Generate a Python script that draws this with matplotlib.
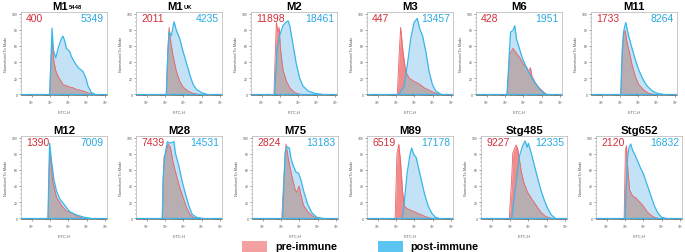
import matplotlib
matplotlib.use('Agg')
import matplotlib.pyplot as plt
import numpy as np
from matplotlib.patches import Rectangle

plt.rcParams['font.family'] = ['Liberation Sans', 'DejaVu Sans']
plt.rcParams['mathtext.fontset'] = 'custom'
plt.rcParams['mathtext.rm'] = 'Liberation Sans'
plt.rcParams['mathtext.bf'] = 'Liberation Sans:bold'

# panel titles (name, subscript) and MFI values
panels = ['M1', 'M1', 'M2', 'M3', 'M6', 'M11',
          'M12', 'M28', 'M75', 'M89', 'Stg485', 'Stg652']
subscripts = ['5448', 'UK', '', '', '', '', '', '', '', '', '', '']
pre_mfi = [400, 2011, 11898, 447, 428, 1733, 1390, 7439, 2824, 6519, 9227, 2120]
post_mfi = [5349, 4235, 18461, 13457, 1951, 8264, 7009, 14531, 13183, 17178, 12335, 16832]

# histogram outlines: FITC-H in decades (log10) and % of mode
pre_log = [
    [1.98, 2.05, 2.11, 2.18, 2.30, 2.44, 2.71, 3.07, 3.25, 3.44, 3.80, 4.16, 4.35],
    [2.07, 2.15, 2.22, 2.31, 2.44, 2.62, 2.80, 2.98, 3.25, 3.53, 3.80],
    [1.67, 1.74, 1.80, 1.89, 1.95, 2.02, 2.16, 2.35, 2.53, 2.80, 3.07],
    [2.07, 2.16, 2.25, 2.38, 2.53, 2.71, 2.98, 3.25, 3.53, 3.80, 4.07, 4.35],
    [2.11, 2.25, 2.43, 2.62, 2.81, 3.00, 3.19, 3.28, 3.38, 3.47, 3.66, 3.85, 4.04, 4.23],
    [2.04, 2.12, 2.20, 2.28, 2.37, 2.52, 2.65, 2.83, 3.02, 3.30, 3.57, 3.85],
    [1.89, 1.94, 1.98, 2.07, 2.16, 2.35, 2.62, 2.89, 3.16, 3.44, 3.80],
    [1.85, 1.90, 1.95, 2.05, 2.16, 2.29, 2.44, 2.62, 2.80, 2.98, 3.16, 3.35, 3.53, 3.71],
    [2.04, 2.15, 2.27, 2.40, 2.58, 2.76, 2.85, 2.98, 3.07, 3.22, 3.49, 3.76, 4.04],
    [1.95, 2.05, 2.15, 2.25, 2.35, 2.45, 2.60, 2.80, 3.00, 3.30, 3.60, 3.90],
    [1.96, 2.09, 2.15, 2.33, 2.42, 2.51, 2.60, 2.75, 2.96, 3.18, 3.42, 3.69, 3.96, 4.24],
    [1.95, 2.02, 2.08, 2.15, 2.25, 2.40, 2.60, 2.80, 3.00, 3.20, 3.40, 3.60, 3.80],
]
pre_pct = [
    [0, 40, 67, 45, 30, 22, 12, 9, 8, 6, 4, 1, 0],
    [0, 55, 83, 65, 47, 28, 16, 9, 4, 1, 0],
    [0, 50, 89, 77, 83, 57, 30, 16, 8, 2, 0],
    [0, 45, 83, 53, 28, 20, 16, 13, 8, 5, 2, 0],
    [0, 49, 57, 51, 45, 37, 33, 28, 33, 22, 14, 8, 4, 0],
    [0, 50, 75, 79, 65, 51, 37, 22, 12, 5, 1, 0],
    [0, 50, 81, 65, 44, 26, 16, 9, 7, 3, 0],
    [0, 50, 77, 80, 92, 88, 69, 53, 38, 26, 14, 5, 1, 0],
    [0, 50, 92, 73, 53, 36, 32, 40, 30, 16, 7, 2, 0],
    [0, 80, 92, 70, 35, 15, 12, 10, 8, 5, 2, 0],
    [0, 50, 81, 91, 86, 73, 59, 44, 32, 24, 16, 7, 2, 0],
    [0, 85, 90, 60, 35, 28, 25, 20, 15, 8, 4, 1, 0],
]
post_log = [
    [1.98, 2.05, 2.11, 2.18, 2.31, 2.45, 2.62, 2.71, 2.80, 2.89, 3.07, 3.16, 3.35, 3.53, 3.80, 3.95, 4.07, 4.25, 4.44],
    [2.07, 2.15, 2.22, 2.35, 2.49, 2.62, 2.80, 2.98, 3.16, 3.35, 3.53, 3.71, 3.98, 4.25],
    [1.71, 1.78, 1.85, 1.98, 2.16, 2.31, 2.44, 2.53, 2.71, 2.89, 3.07, 3.25, 3.53, 3.89, 4.25],
    [2.16, 2.44, 2.62, 2.80, 2.98, 3.16, 3.29, 3.44, 3.62, 3.80, 3.98, 4.16, 4.44],
    [2.11, 2.30, 2.43, 2.53, 2.62, 2.75, 2.94, 3.13, 3.32, 3.51, 3.70, 3.89, 4.13, 4.26],
    [2.04, 2.12, 2.19, 2.31, 2.46, 2.65, 2.83, 3.02, 3.26, 3.48, 3.76, 4.04, 4.31],
    [1.89, 1.94, 1.98, 2.07, 2.20, 2.35, 2.53, 2.80, 3.07, 3.44, 3.89, 4.16],
    [1.85, 1.90, 1.98, 2.13, 2.25, 2.38, 2.49, 2.56, 2.75, 2.93, 3.11, 3.29, 3.47, 3.71, 3.98],
    [2.09, 2.16, 2.22, 2.31, 2.45, 2.55, 2.67, 2.82, 2.95, 3.09, 3.25, 3.44, 3.67, 3.95, 4.22],
    [2.35, 2.45, 2.60, 2.75, 2.85, 2.95, 3.10, 3.25, 3.40, 3.55, 3.75, 3.95, 4.15, 4.30],
    [2.09, 2.33, 2.51, 2.69, 2.82, 2.93, 3.00, 3.15, 3.33, 3.51, 3.69, 3.87, 4.05, 4.25, 4.45],
    [2.00, 2.07, 2.14, 2.22, 2.31, 2.40, 2.55, 2.70, 2.85, 3.00, 3.15, 3.30, 3.45, 3.60, 3.80, 4.00, 4.20],
]
post_pct = [
    [0, 45, 82, 55, 45, 58, 69, 72, 66, 57, 53, 47, 39, 33, 28, 20, 10, 2, 0],
    [0, 50, 77, 73, 90, 79, 69, 53, 39, 24, 12, 6, 2, 0],
    [0, 30, 57, 73, 85, 89, 91, 85, 61, 37, 20, 10, 4, 1, 0],
    [0, 10, 37, 69, 89, 94, 81, 73, 53, 28, 12, 4, 0],
    [0, 77, 79, 85, 69, 59, 45, 35, 26, 18, 12, 6, 1, 0],
    [0, 55, 77, 89, 73, 57, 43, 30, 18, 10, 4, 1, 0],
    [0, 60, 93, 73, 49, 34, 24, 16, 8, 4, 1, 0],
    [0, 50, 77, 95, 93, 94, 95, 81, 65, 46, 30, 16, 5, 1, 0],
    [0, 45, 81, 89, 87, 73, 65, 57, 56, 47, 32, 18, 7, 1, 0],
    [0, 20, 55, 78, 87, 80, 75, 60, 45, 30, 15, 6, 1, 0],
    [0, 44, 77, 90, 96, 88, 93, 81, 65, 49, 34, 22, 12, 4, 0],
    [0, 40, 75, 88, 92, 85, 78, 70, 62, 55, 45, 35, 25, 15, 6, 1, 0],
]

RED_TXT = '#d42e3b'
BLUE_TXT = '#29a9e1'
RED_FILL = '#f28b8b'
RED_LINE = '#e8646a'
GRAY_FILL = '#b8adb0'
BLUE_FILL = '#c3e2f6'
BLUE_LINE = '#38b6ea'

W, H = 685, 253
fig = plt.figure(figsize=(W / 100, H / 100), dpi=100)

col_left = [[21, 136, 251, 367, 476, 591], [21, 136, 252, 367, 481, 596]]
row_top = [13, 137]
ax_w, ax_h = 86, 83

for i, name in enumerate(panels):
    r, c = divmod(i, 6)
    left = col_left[r][c]
    ax = fig.add_axes([left / W, 1 - (row_top[r] + ax_h) / H, ax_w / W, ax_h / H])
    ax.set_xscale('log')

    px = 10 ** np.array(pre_log[i])
    qx = 10 ** np.array(post_log[i])

    post_fill = ax.fill_between(qx, 0, post_pct[i], color=BLUE_FILL, lw=0, zorder=1)
    ax.fill_between(px, 0, pre_pct[i], color=RED_FILL, lw=0, zorder=2)
    gray = ax.fill_between(px, 0, pre_pct[i], color=GRAY_FILL, lw=0, zorder=3)
    gray.set_clip_path(post_fill.get_paths()[0], ax.transData)
    ax.plot(px, pre_pct[i], color=RED_LINE, lw=0.6, zorder=4)
    ax.plot(qx, post_pct[i], color=BLUE_LINE, lw=0.9, zorder=5)
    ax.axhline(0, color=BLUE_LINE, lw=0.9, zorder=5)

    ax.set_xlim(10 ** 0.42, 10 ** 5.1)
    ax.set_ylim(-1, 102)
    ax.set_xticks([10, 100, 1000, 10000, 100000])
    ax.set_xticklabels([r'$10^{%d}$' % k for k in range(1, 6)])
    ax.set_yticks([0, 20, 40, 60, 80, 100])
    ax.set_yticks(np.arange(0, 101, 5), minor=True)
    ax.tick_params(which='major', length=1.5, width=0.4, labelsize=2.4, pad=1, colors='#555555')
    ax.tick_params(which='minor', length=0.8, width=0.3, colors='#555555')
    for s in ax.spines.values():
        s.set_linewidth(0.4)
        s.set_color('#a0a0a0')
    ax.spines['bottom'].set_color('#444444')

    ax.set_xlabel('FITC-H', fontsize=2.8, labelpad=3, color='#555555')
    ax.set_ylabel('Normalized To Mode', fontsize=2.8, labelpad=3, color='#555555')

    if subscripts[i]:
        t = ax.set_title(name, fontsize=8.2, fontweight='bold', pad=2.5, x=0.45)
        ax.annotate(subscripts[i], xy=(1.0, 0.12), xycoords=t, xytext=(0.6, 0),
                    textcoords='offset points', fontsize=4.2, fontweight='bold',
                    ha='left', va='bottom')
    else:
        ax.set_title(name, fontsize=8.2, fontweight='bold', pad=2.5)

    ax.text(0.06, 0.925, str(pre_mfi[i]), transform=ax.transAxes, color=RED_TXT,
            fontsize=7.5, va='center', ha='left', zorder=6)
    ax.text(0.965, 0.925, str(post_mfi[i]), transform=ax.transAxes, color=BLUE_TXT,
            fontsize=7.5, va='center', ha='right', zorder=6)

# legend
fig.patches.append(Rectangle((242 / W, 0), 25 / W, 11 / H, transform=fig.transFigure,
                             color='#f4a0a0', lw=0))
fig.text(275 / W, 6 / H, 'pre-immune', fontsize=7.8, fontweight='bold', va='center')
fig.patches.append(Rectangle((378 / W, 0), 25 / W, 11 / H, transform=fig.transFigure,
                             color='#5bc4f1', lw=0))
fig.text(410 / W, 6 / H, 'post-immune', fontsize=7.8, fontweight='bold', va='center')

fig.savefig('out.png', dpi=100)
